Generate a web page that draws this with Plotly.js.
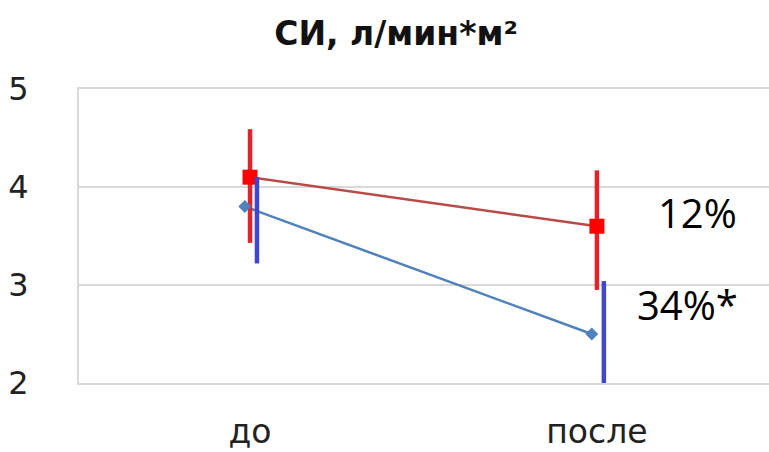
<!DOCTYPE html>
<html>
<head>
<meta charset="utf-8">
<script src="https://cdn.plot.ly/plotly-3.0.1.min.js"></script>
<style>html,body{margin:0;padding:0;background:#fff}#chart{width:769px;height:452px}</style>
</head>
<body>
<div id="chart"></div>
<script>
const categories = ["до", "после"];
const redValues = [4.1, 3.6];
const redErrPlus = [0.49, 0.57];
const redErrMinus = [0.67, 0.65];
const blueValues = [3.8, 2.5];
const blueErrPlus = [0.3, 0.54];
const blueErrMinus = [0.58, 0.5];
const annotationTexts = ["12%", "34%*"];
const titleText = "СИ, л/мин*м²";

const idx = categories.map((c, i) => i);
const blueMarkOff = -0.015, blueErrOff = 0.02, redErrOff = 0.0;
const shift = (arr, d) => arr.map(v => v + d);

const traces = [
  { x: shift(idx, blueMarkOff), y: blueValues, mode: 'lines', line: {color: '#4F81BD', width: 2.5}, hoverinfo: 'skip' },
  { x: idx, y: redValues, mode: 'lines', line: {color: '#B94A48', width: 2.5}, hoverinfo: 'skip' },
  { x: shift(idx, redErrOff), y: redValues, mode: 'markers', marker: {size: 1, opacity: 0},
    error_y: {type: 'data', symmetric: false, array: redErrPlus, arrayminus: redErrMinus, color: '#E3232C', thickness: 4.5, width: 0} },
  { x: idx, y: redValues, mode: 'markers', marker: {symbol: 'square', size: 15, color: '#FF0000'} },
  { x: shift(idx, blueErrOff), y: blueValues, mode: 'markers', marker: {size: 1, opacity: 0},
    error_y: {type: 'data', symmetric: false, array: blueErrPlus, arrayminus: blueErrMinus, color: '#3F48CC', thickness: 4.5, width: 0} },
  { x: shift(idx, blueMarkOff), y: blueValues, mode: 'markers', marker: {symbol: 'diamond', size: 10, color: '#4F81BD'} }
];

const layout = {
  width: 769, height: 452,
  margin: {l: 79, r: 0, t: 89, b: 69},
  paper_bgcolor: '#fff', plot_bgcolor: '#fff',
  showlegend: false,
  font: {family: 'DejaVu Sans, sans-serif', color: '#222'},
  title: {text: '<b>' + titleText + '</b>', font: {size: 33, color: '#111', family: 'DejaVu Sans, sans-serif'},
          x: 0.515, xanchor: 'center', y: 1 - 33/452, yanchor: 'middle', yref: 'container'},
  xaxis: {range: [-0.493, 1.496], tickvals: idx, ticktext: categories, showgrid: false, zeroline: false,
          showline: true, mirror: true, linecolor: '#D9D9D9', linewidth: 2, ticks: '',
          tickfont: {size: 33, color: '#222'}, ticklabelstandoff: 18, fixedrange: true},
  yaxis: {range: [2, 5], tickvals: [2, 3, 4, 5], showgrid: true, gridcolor: '#D9D9D9', gridwidth: 2,
          showline: true, linecolor: '#D9D9D9', linewidth: 2, zeroline: false, ticks: '',
          tickfont: {size: 32, color: '#222'}, ticklabelstandoff: 42, fixedrange: true},
  annotations: [
    {x: 1.29, y: 3.74, xref: 'x', yref: 'y', text: annotationTexts[0], showarrow: false, font: {size: 40, color: '#000', family: 'Open Sans, sans-serif'}},
    {x: 1.26, y: 2.8, xref: 'x', yref: 'y', text: annotationTexts[1], showarrow: false, font: {size: 40, color: '#000', family: 'Open Sans, sans-serif'}}
  ]
};

Plotly.newPlot('chart', traces, layout, {displayModeBar: false, staticPlot: true});
</script>
</body>
</html>
